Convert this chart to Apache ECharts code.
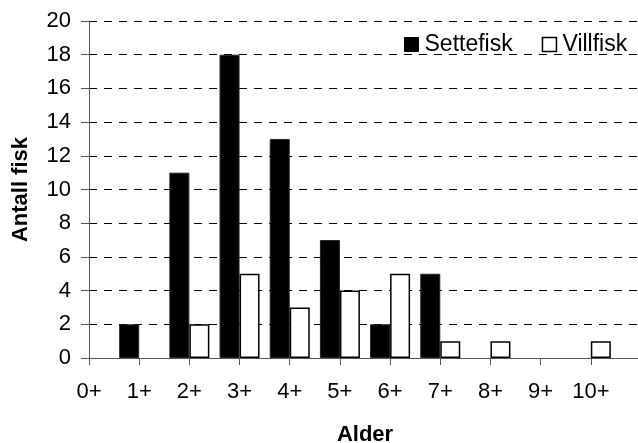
<!DOCTYPE html>
<html>
<head>
<meta charset="utf-8">
<script src="https://cdn.jsdelivr.net/npm/echarts@6/dist/echarts.min.js"></script>
<style>
  html, body { margin: 0; padding: 0; background: #fff; }
  #chart { width: 638px; height: 443px; }
</style>
</head>
<body>
<div id="chart"></div>
<script>
// Age classes (the axis runs one empty slot past the last class)
const categories = ['0+', '1+', '2+', '3+', '4+', '5+', '6+', '7+', '8+', '9+', '10+'];
const settefisk = [0, 2, 11, 18, 13, 7, 2, 5, 0, 0, 0];
const villfisk = [0, 0, 2, 5, 3, 4, 5, 1, 1, 0, 1];
const yTicks = { min: 0, max: 20, interval: 2 };

const FONT = "'Liberation Sans', Arial, sans-serif";
const axisData = categories.concat(['']);
// empty classes get no bar at all
const asBars = arr => arr.map(v => (v === 0 ? '-' : v));

const chart = echarts.init(document.getElementById('chart'), null, { renderer: 'canvas' });
chart.setOption({
  animation: false,
  backgroundColor: '#ffffff',
  textStyle: { fontFamily: FONT, color: '#000' },
  grid: { left: 89, top: 21, bottom: 85, width: 552, containLabel: false, outerBoundsMode: 'none' },
  legend: {
    left: 399,
    top: 28,
    itemWidth: 14,
    itemHeight: 14,
    itemGap: 29,
    icon: 'rect',
    textStyle: { fontFamily: FONT, fontSize: 23, color: '#000', padding: [0, 0, 0, 1] },
    data: [
      { name: 'Settefisk', itemStyle: { color: '#000', borderColor: '#000', borderWidth: 1 } },
      { name: 'Villfisk', itemStyle: { color: '#fff', borderColor: '#000', borderWidth: 1.5 } }
    ]
  },
  xAxis: {
    type: 'category',
    data: axisData,
    boundaryGap: false,
    name: 'Alder',
    nameLocation: 'middle',
    nameGap: 66,
    nameTextStyle: { fontFamily: FONT, fontSize: 22, fontWeight: 'bold', color: '#000' },
    axisLine: { lineStyle: { color: '#555', width: 1 } },
    axisTick: { show: true, length: 7, interval: 0, lineStyle: { color: '#555' } },
    axisLabel: { fontFamily: FONT, fontSize: 22, color: '#000', margin: 23, interval: 0 },
    splitLine: { show: false }
  },
  yAxis: {
    type: 'value',
    min: yTicks.min,
    max: yTicks.max,
    interval: yTicks.interval,
    name: 'Antall fisk',
    nameLocation: 'middle',
    nameGap: 57,
    nameTextStyle: { fontFamily: FONT, fontSize: 22, fontWeight: 'bold', color: '#000' },
    axisLine: { show: true, lineStyle: { color: '#555', width: 1 } },
    axisTick: { show: true, length: 8, lineStyle: { color: '#555' } },
    axisLabel: { fontFamily: FONT, fontSize: 22, color: '#000', margin: 18 },
    splitLine: { show: true, lineStyle: { color: '#000', type: [8, 7], width: 1 } }
  },
  series: [
    {
      name: 'Settefisk',
      type: 'bar',
      data: asBars(settefisk),
      barWidth: 20,
      barGap: '0%',
      itemStyle: { color: '#000', borderColor: '#222', borderWidth: 1 }
    },
    {
      name: 'Villfisk',
      type: 'bar',
      data: asBars(villfisk),
      barWidth: 20,
      barGap: '0%',
      itemStyle: { color: '#fff', borderColor: '#000', borderWidth: 1.5 }
    }
  ]
});
</script>
</body>
</html>
